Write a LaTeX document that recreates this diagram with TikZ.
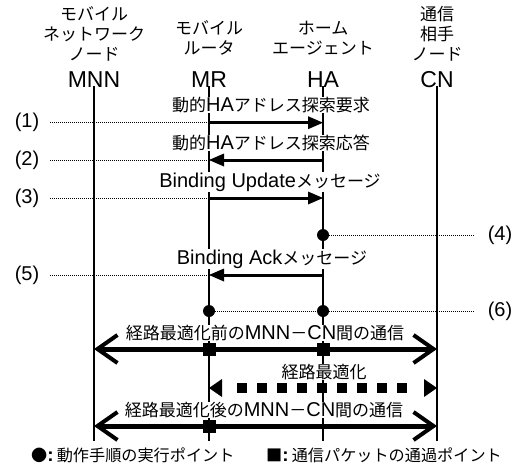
\documentclass[tikz,border=0pt]{standalone}
\usepackage{fontspec}
\setmainfont{Liberation Sans}
\newfontfamily\cjk[Scale=0.85]{Noto Sans CJK JP}
\newcommand{\J}[1]{{\cjk #1}}
\usetikzlibrary{arrows.meta}
\begin{document}
\begin{tikzpicture}[x=1pt,y=-1pt,
 lifeline/.style={line width=1.1pt},
 lbl/.style={font=\fontsize{20}{22}\selectfont, inner sep=0.5pt, fill=white},
 hdr/.style={font=\fontsize{20}{20}\selectfont\cjk, align=center, inner sep=0pt},
 abbr/.style={font=\fontsize{23}{23}\selectfont, inner sep=0pt},
 num/.style={font=\fontsize{20}{20}\selectfont, inner sep=0pt},
 legend/.style={font=\fontsize{19}{19}\selectfont, inner sep=0pt, anchor=west},
 dotline/.style={line width=1pt, dash pattern=on 1pt off 1pt},
 msg/.style={line width=3pt, -{Triangle[length=15pt,width=13pt,line width=0pt]}},
 comm/.style={line width=5pt, {Straight Barb[length=20pt,width=28pt,line width=4pt]}-{Straight Barb[length=20pt,width=28pt,line width=4pt]}},
 optbody/.style={line width=10pt, dash pattern=on 10pt off 10pt},
 opttips/.style={line width=10pt, dash pattern=on 0pt off 600pt, {Triangle[length=13pt,width=18pt,line width=0pt]}-{Triangle[length=13pt,width=18pt,line width=0pt]}},
 pkt/.style={rectangle, fill=black, minimum size=13pt, inner sep=0pt},
 exec/.style={circle, fill=black, minimum size=12pt, inner sep=0pt}
]
\fill[white] (0,0) rectangle (516,466);
\useasboundingbox (0,0) rectangle (516,466);

% headers
\node[hdr] (hMNN) at (94,34) {モバイル\\ネットワーク\\ノード};
\node[hdr] (hMR) at (209,38) {モバイル\\ルータ};
\node[hdr] (hHA) at (323,38) {ホーム\\エージェント};
\node[hdr] (hCN) at (437,34) {通信\\相手\\ノード};
\node[abbr] (aMNN) at (94,80) {MNN};
\node[abbr] (aMR) at (209,80) {MR};
\node[abbr] (aHA) at (323,80) {HA};
\node[abbr] (aCN) at (437,80) {CN};

% lifeline coordinates
\coordinate (mnnT) at (94,86);  \coordinate (mnnB) at (94,441);
\coordinate (mrT) at (209,86);  \coordinate (mrB) at (209,441);
\coordinate (haT) at (323,86);  \coordinate (haB) at (323,441);
\coordinate (cnT) at (437,86);  \coordinate (cnB) at (437,441);
\draw[lifeline] (mnnT) -- (mnnB);
\draw[lifeline] (mrT) -- (mrB);
\draw[lifeline] (haT) -- (haB);
\draw[lifeline] (cnT) -- (cnB);

% message coordinates
\coordinate (mr1) at (209,122.7); \coordinate (ha1) at (323,122.7); \coordinate (d1) at (50,122.7);
\coordinate (mr2) at (209,160);   \coordinate (ha2) at (323,160);   \coordinate (d2) at (50,160);
\coordinate (mr3) at (209,198);   \coordinate (ha3) at (323,198);   \coordinate (d3) at (50,198);
\coordinate (e4) at (475,235);
\coordinate (mr5) at (209,275);   \coordinate (ha5) at (323,275);   \coordinate (d5) at (50,275);
\coordinate (e6) at (475,311);
\coordinate (mnnA) at (94,349);   \coordinate (cnA) at (437,349);
\coordinate (mrD) at (209,388);   \coordinate (cnD) at (437,388);
\coordinate (mnnC) at (94,426);   \coordinate (cnC) at (437,426);

% step labels
\node[num] (n1) at (27,122.7) {(1)};
\node[num] (n2) at (27,160) {(2)};
\node[num] (n3) at (27,198) {(3)};
\node[num] (n4) at (500,235) {(4)};
\node[num] (n5) at (27,275) {(5)};
\node[num] (n6) at (500,311) {(6)};

% message texts
\node[lbl] (t1) at (271,105) {\J{動的}HA\J{アドレス探索要求}};
\node[lbl] (t2) at (271,143) {\J{動的}HA\J{アドレス探索応答}};
\node[lbl] (t3) at (270,182) {Binding Update\J{メッセージ}};
\node[lbl] (t5) at (272,259) {Binding Ack\J{メッセージ}};
\node[lbl] (tA) at (265,333) {\J{経路最適化前の}MNN\J{－}CN\J{間の通信}};
\node[lbl] (tD) at (324,372) {\J{経路最適化}};
\node[lbl] (tB) at (264,410) {\J{経路最適化後の}MNN\J{－}CN\J{間の通信}};

% dotted guide lines
\draw[dotline] (d1) -- (mr1);
\draw[dotline] (d2) -- (mr2);
\draw[dotline] (d3) -- (mr3);
\draw[dotline] (d5) -- (mr5);

% execution points
\node[exec] (c4) at (323,235) {};
\node[exec] (c6a) at (209,311) {};
\node[exec] (c6b) at (323,311) {};
\draw[dotline] (c4) -- (e4);
\draw[dotline] (c6a) -- (e6);

% messages
\draw[msg] (mr1) -- (ha1);
\draw[msg] (ha2) -- (mr2);
\draw[msg] (mr3) -- (ha3);
\draw[msg] (ha5) -- (mr5);

% communications
\draw[comm] (mnnA) -- (cnA);
\draw[optbody, shorten <=28pt, shorten >=29pt] (mrD) -- (cnD);
\draw[opttips] (mrD) -- (cnD);
\draw[comm] (mnnC) -- (cnC);

% packet points
\node[pkt] (s1) at (209,349) {};
\node[pkt] (s2) at (323,349) {};
\node[pkt] (s3) at (209,426) {};

% legend
\node[legend] (L1) at (31,455) {\J{●}\textbf{:}\,\J{動作手順の実行ポイント}};
\node[legend] (L2) at (266,455) {\J{■}\textbf{:}\,\J{通信パケットの通過ポイント}};
\end{tikzpicture}
\end{document}
